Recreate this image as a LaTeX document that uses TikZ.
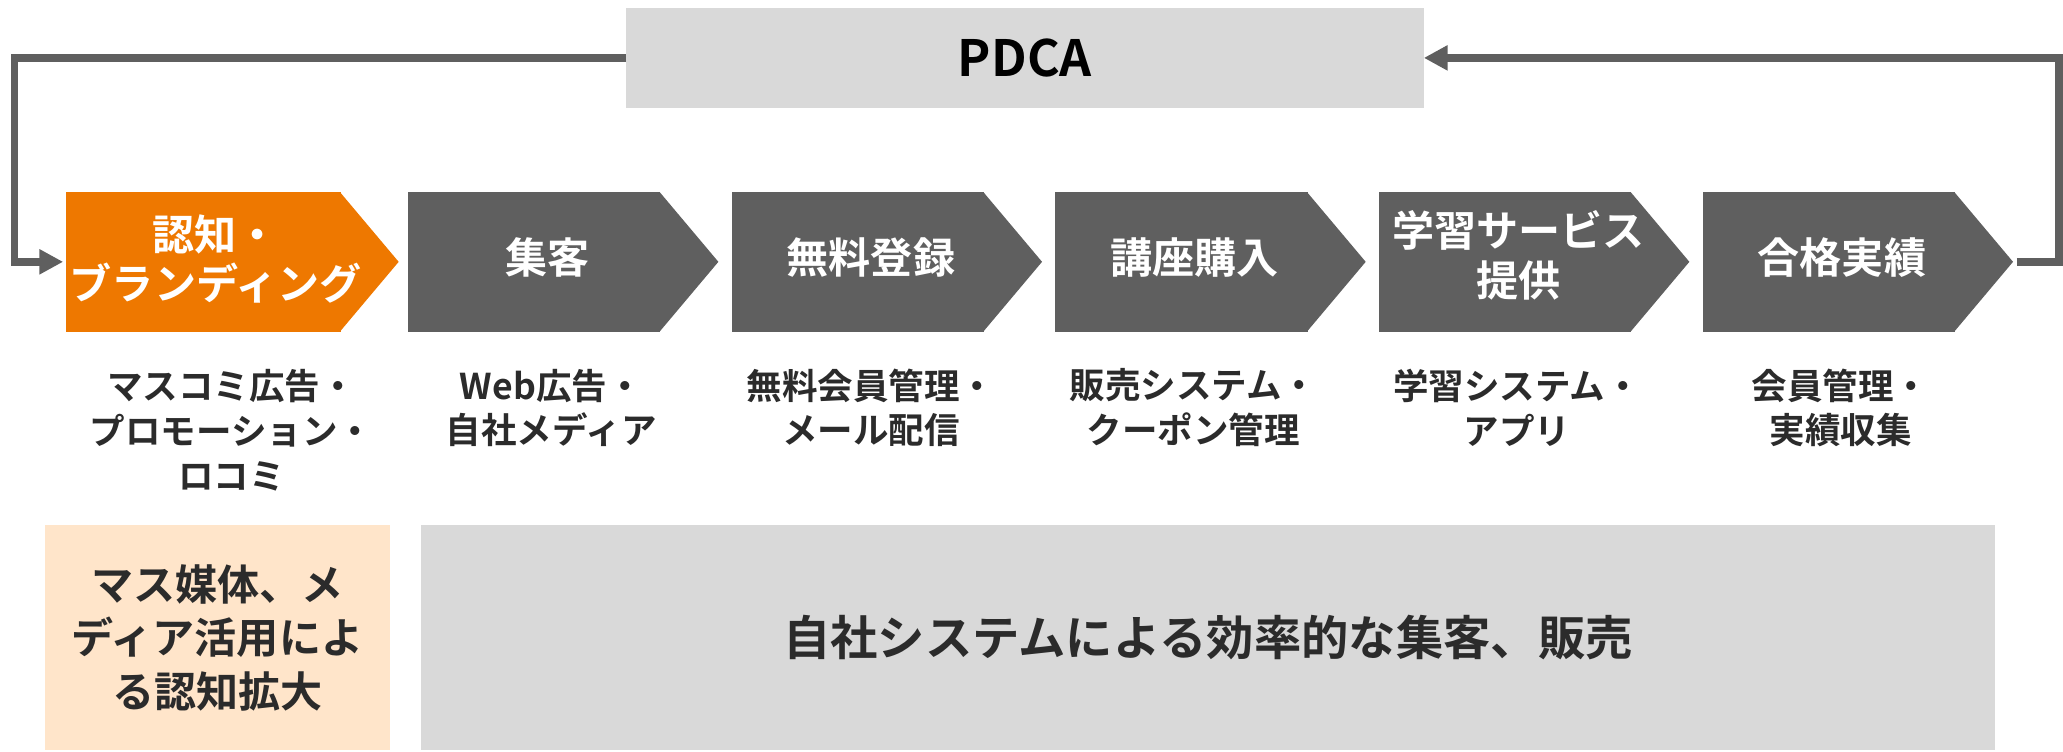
\documentclass[tikz,border=0pt]{standalone}
\usepackage{fontspec}
\setmainfont{Noto Sans CJK JP}[BoldFont={Noto Sans CJK JP Bold}]
\usetikzlibrary{arrows.meta}
\definecolor{orangeA}{HTML}{EE7800}
\definecolor{darkA}{HTML}{5F5F5F}
\definecolor{grayA}{HTML}{D9D9D9}
\definecolor{tanA}{HTML}{FFE5CA}
\definecolor{textA}{HTML}{2B2B2B}
\begin{document}
\begin{tikzpicture}[x=1pt,y=-1pt,
  chevrect/.style={anchor=north west, minimum width=#1, minimum height=106, inner sep=0, outer sep=0},
  chevtext/.style={text=white, font=\bfseries\fontsize{32}{37.5}\selectfont, align=center, inner sep=0},
  sublabel/.style={text=textA, font=\bfseries\fontsize{27}{34}\selectfont, align=center, inner sep=0},
  conn/.style={draw=darkA, line width=6pt, -{Triangle[length=18pt,width=18pt]}},
  bottombox/.style={anchor=north west, minimum height=171, inner sep=0, text=textA, align=center},
]
\useasboundingbox (0,0) rectangle (1568,571);

% PDCA box
\node[fill=grayA, minimum width=606, minimum height=76, inner sep=0, text=black,
      font=\bfseries\fontsize{38}{40}\selectfont] (pdca) at (779,44) {PDCA};

% chevrons
\foreach \n/\lx/\w/\col in {1/50/209/orangeA, 2/310/192/darkA, 3/556/192/darkA, 4/802/192/darkA, 5/1048/192/darkA, 6/1294/192/darkA}{
  \node[chevrect=\w, fill=\col] (c\n) at (\lx,146) {};
  \fill[\col] ([xshift=-0.6pt]c\n.north east) -- ([xshift=44pt]c\n.east) -- ([xshift=-0.6pt]c\n.south east) -- cycle;
}

\node[chevtext] (t1) at (164,197) {認知・\\ブランディング};
\node[chevtext] (t2) at (416,196) {集客};
\node[chevtext] (t3) at (662,196) {無料登録};
\node[chevtext] (t4) at (908,196) {講座購入};
\node[chevtext] (t5) at (1154,194) {学習サービス\\提供};
\node[chevtext] (t6) at (1400,196) {合格実績};

% sub labels
\node[sublabel] (s1) at (176,327) {マスコミ広告・\\プロモーション・\\ロコミ};
\node[sublabel] (s2) at (419,310) {Web広告・\\自社メディア};
\node[sublabel] (s3) at (662,310) {無料会員管理・\\メール配信};
\node[sublabel] (s4) at (907,310) {販売システム・\\クーポン管理};
\node[sublabel] (s5) at (1153,310) {学習システム・\\アプリ};
\node[sublabel] (s6) at (1399,310) {会員管理・\\実績収集};

% bottom boxes
\node[bottombox, fill=tanA, minimum width=262, font=\bfseries\fontsize{32}{40.5}\selectfont] (tan) at (34,399)
  {マス媒体、メ\\ディア活用によ\\る認知拡大};
\node[bottombox, fill=grayA, minimum width=1196, font=\bfseries\fontsize{36}{40}\selectfont] (sys) at (320,399)
  {自社システムによる効率的な集客、販売};

% feedback connectors
\coordinate (lcorner) at (11,44);
\coordinate (rcorner) at (1565,44);
\coordinate (c6tip) at (1533,199);
\draw[conn, shorten >=2pt] (pdca.west) -- (lcorner) |- (c1.west);
\draw[conn] (c6tip) -| (rcorner) -- (pdca.east);
\end{tikzpicture}
\end{document}
